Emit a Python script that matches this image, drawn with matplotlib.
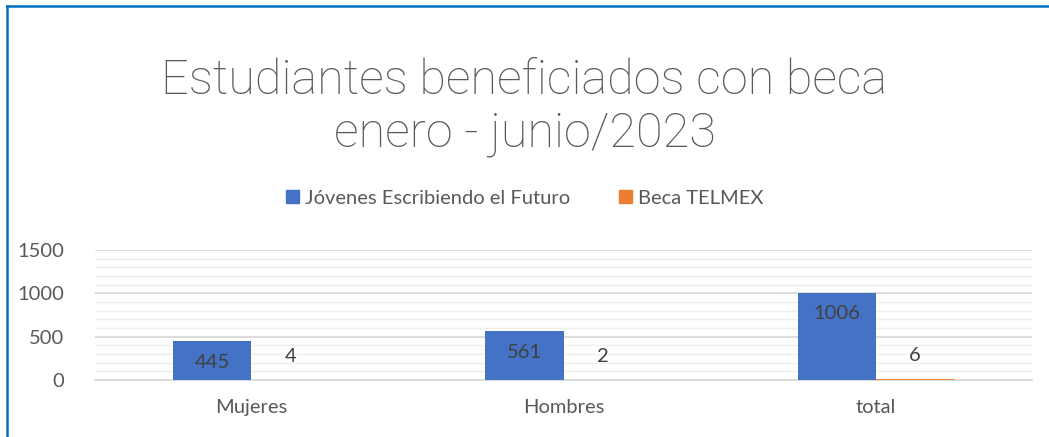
import matplotlib.pyplot as plt
import numpy as np
from matplotlib.lines import Line2D

categorias = ["Mujeres", "Hombres", "total"]
jovenes = [445, 561, 1006]
telmex = [4, 2, 6]
series = ["Jóvenes Escribiendo el Futuro", "Beca TELMEX"]

azul = "#4472C4"
naranja = "#ED7D31"
gris = "#595959"

plt.rcParams["font.family"] = ["Lato", "DejaVu Sans"]

fig = plt.figure(figsize=(10.49, 4.37), dpi=100)
ax = fig.add_axes([95 / 1049, 1 - 380 / 437, (1032 - 95) / 1049, 130 / 437])

x = np.arange(len(categorias))
w = 0.25
ax.bar(x - w / 2, jovenes, w, color=azul, label=series[0], zorder=3)
ax.bar(x + w / 2, telmex, w, color=naranja, label=series[1], zorder=3)

# etiquetas de datos
for xi, v in zip(x - w / 2, jovenes):
    ax.annotate(str(v), (xi, v), xytext=(0, -15), textcoords="offset points",
                ha="center", va="center", fontsize=14.5, color="#404040")
for xi, v in zip(x + w / 2, telmex):
    ax.annotate(str(v), (xi, v), xytext=(0, 17), textcoords="offset points",
                ha="center", va="center", fontsize=14.5, color="#404040")

ax.set_xlim(-0.5, len(categorias) - 0.5)
ax.set_ylim(0, 1500)
ax.set_yticks([0, 500, 1000, 1500])
ax.set_yticks(np.arange(0, 1501, 100), minor=True)
ax.grid(axis="y", which="major", color="#d9d9d9", linewidth=1.3, zorder=0)
ax.grid(axis="y", which="minor", color="#efefef", linewidth=1.0, zorder=0)
ax.set_xticks(x)
ax.set_xticklabels(categorias)
ax.tick_params(axis="both", which="both", length=0, labelsize=14.5, colors=gris)
ax.tick_params(axis="x", pad=14)
ax.tick_params(axis="y", pad=22)
for s in ["top", "right", "left"]:
    ax.spines[s].set_visible(False)
ax.spines["bottom"].set_color("#d9d9d9")
ax.spines["bottom"].set_linewidth(1.3)

titulo = dict(ha="center", va="center", fontsize=35, color=gris,
              family=["Roboto", "DejaVu Sans"], fontweight="light")
fig.text(0.5, 1 - 81 / 437, "Estudiantes beneficiados con beca", **titulo)
fig.text(0.5, 1 - 134 / 437, "enero - junio/2023", **titulo)

handles = [plt.Rectangle((0, 0), 1, 1, color=azul), plt.Rectangle((0, 0), 1, 1, color=naranja)]
fig.legend(handles, series, loc="center", bbox_to_anchor=(0.5, 1 - 198 / 437), ncol=2,
           frameon=False, fontsize=14.5, labelcolor=gris, handlelength=0.65, handleheight=0.65,
           handletextpad=0.3, columnspacing=2.4)

# marco azul
fig.add_artist(Line2D([6.5 / 1049, 6.5 / 1049], [0, 1 - 5.5 / 437], transform=fig.transFigure,
                      color="#0070C0", linewidth=1.8))
fig.add_artist(Line2D([6.5 / 1049, 1], [1 - 5.5 / 437, 1 - 5.5 / 437], transform=fig.transFigure,
                      color="#0070C0", linewidth=1.8))

fig.savefig("out.png", dpi=100)
